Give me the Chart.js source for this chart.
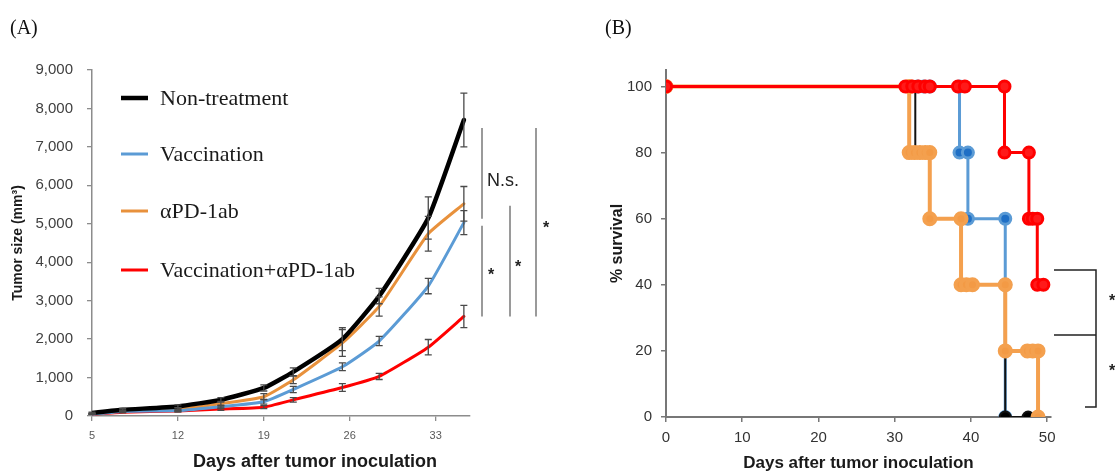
<!DOCTYPE html>
<html><head><meta charset="utf-8">
<script src="https://cdn.jsdelivr.net/npm/chart.js@4.4.0/dist/chart.umd.min.js"></script>
<style>
html,body{margin:0;padding:0;background:#fff;width:1115px;height:472px;overflow:hidden;position:relative;}
canvas{position:absolute;top:0;}
#ca{left:0;}
#cb{left:560px;}
.lbl{position:absolute;top:15px;font-family:"Liberation Serif","Times New Roman",serif;font-size:20px;color:#111;line-height:24px;z-index:2;}
</style></head><body>
<canvas id="ca" width="560" height="472"></canvas>
<canvas id="cb" width="555" height="472"></canvas>
<div class="lbl" style="left:10px">(A)</div>
<div class="lbl" style="left:605px">(B)</div>
<script>
// ---------- Panel A: tumor growth ----------
const daysA = [5, 7.5, 12, 15.5, 19, 21.4, 25.4, 28.4, 32.4, 35.3];
const nonTreatment    = [80, 160, 250, 420, 730, 1150, 2000, 3120, 5150, 7700];
const nonTreatmentErr = [20, 40, 40, 60, 80, 100, 300, 200, 550, 700];
const vaccination     = [50, 120, 140, 240, 370, 690, 1280, 1950, 3380, 5030];
const vaccinationErr  = [10, 20, 30, 40, 60, 80, 100, 120, 200, 310];
const antiPD1         = [60, 130, 180, 320, 500, 940, 1900, 2850, 4740, 5520];
const antiPD1Err      = [20, 30, 40, 60, 80, 100, 350, 250, 450, 450];
const combo           = [50, 100, 130, 180, 230, 420, 740, 1030, 1790, 2590];
const comboErr        = [10, 20, 20, 30, 40, 60, 100, 80, 200, 290];
const tickDaysA = [5, 12, 19, 26, 33];
const tickSizeA = [0, 1000, 2000, 3000, 4000, 5000, 6000, 7000, 8000, 9000];
const labelsA = ['Non-treatment', 'Vaccination', '\u03b1PD-1ab', 'Vaccination+\u03b1PD-1ab'];
const titleXA = 'Days after tumor inoculation';
// significance brackets (y values in mm3)
const sigA = [
  {col: 0, from: 7490, to: 5130, text: 'N.s.', ty: 6100},
  {col: 0, from: 4950, to: 2590, text: '*', ty: 3740},
  {col: 1, from: 5470, to: 2590, text: '*', ty: 3950},
  {col: 2, from: 7490, to: 2590, text: '*', ty: 4950}
];

// ---------- Panel B: survival ----------
const survComboDays = [0, 31.4, 32.3, 33.1, 34.0, 34.6, 38.3, 39.2, 44.4, 44.4, 47.6, 47.6, 48.1, 48.7, 48.7, 49.5];
const survComboPct  = [100, 100, 100, 100, 100, 100, 100, 100, 100, 80, 80, 60, 60, 60, 40, 40];
const survAntiDays  = [0, 31.9, 31.9, 32.6, 33.3, 34.0, 34.6, 34.6, 38.7, 38.7, 39.4, 40.2, 44.5, 44.5, 47.4, 48.1, 48.8, 48.8];
const survAntiPct   = [100, 100, 80, 80, 80, 80, 80, 60, 60, 40, 40, 40, 40, 20, 20, 20, 20, 0];
const survVacDays   = [0, 33.0, 33.8, 34.6, 38.5, 38.5, 39.6, 39.6, 44.5, 44.5, 44.5];
const survVacPct    = [100, 100, 100, 100, 100, 80, 80, 60, 60, 40, 0];
const survNonDays   = [0, 32.7, 32.7, 34.6, 34.6, 38.7, 38.7, 44.5, 44.5, 47.5, 48.8];
const survNonPct    = [100, 100, 80, 80, 60, 60, 40, 40, 0, 0, 0];
const tickDaysB = [0, 10, 20, 30, 40, 50];
const tickPctB  = [0, 20, 40, 60, 80, 100];
const sigB = {upper: 44.5, lower: 24.8, bottom: 3, stars: [36, 14.8]};

const pts = (xs, ys) => xs.map((x, i) => ({x: x, y: ys[i]}));
const SANS = '"Liberation Sans", Arial, sans-serif';

const errorBars = {
  id: 'errorBars',
  afterDatasetsDraw(chart) {
    const {ctx, scales: {x, y}} = chart;
    ctx.save();
    ctx.strokeStyle = '#4a4a4a';
    ctx.lineWidth = 1.3;
    chart.data.datasets.forEach(ds => {
      if (!ds.errors) return;
      ds.data.forEach((p, j) => {
        const e = ds.errors[j];
        const px = x.getPixelForValue(p.x);
        const t = y.getPixelForValue(p.y + e), b = y.getPixelForValue(p.y - e);
        ctx.beginPath();
        ctx.moveTo(px, t); ctx.lineTo(px, b);
        ctx.moveTo(px - 3.5, t); ctx.lineTo(px + 3.5, t);
        ctx.moveTo(px - 3.5, b); ctx.lineTo(px + 3.5, b);
        ctx.stroke();
      });
    });
    ctx.restore();
  }
};

const legendA = {
  id: 'legendA',
  afterDraw(chart) {
    const {ctx} = chart;
    const rows = [98, 154, 211, 270];
    ctx.save();
    ctx.font = '22px "Liberation Serif", "Times New Roman", serif';
    ctx.textBaseline = 'middle';
    chart.data.datasets.forEach((ds, i) => {
      const yy = rows[i];
      ctx.strokeStyle = ds.borderColor;
      ctx.lineWidth = ds.borderWidth;
      ctx.beginPath(); ctx.moveTo(121, yy); ctx.lineTo(148, yy); ctx.stroke();
      ctx.fillStyle = '#1a1a1a';
      ctx.fillText(ds.label, 160, yy + 1);
    });
    // x axis title
    ctx.font = 'bold 18px ' + SANS;
    ctx.textAlign = 'center';
    ctx.fillStyle = '#1a1a1a';
    ctx.fillText(titleXA, 315, 462);
    // significance
    const {chartArea: ca, scales: {y}} = chart;
    const cols = [12, 40, 66];
    const txo = [9, 8, 10];
    ctx.strokeStyle = '#9a9a9a';
    ctx.lineWidth = 2;
    sigA.forEach(s => {
      const xx = ca.right + cols[s.col];
      ctx.beginPath();
      ctx.moveTo(xx, y.getPixelForValue(s.from));
      ctx.lineTo(xx, y.getPixelForValue(s.to));
      ctx.stroke();
      ctx.fillStyle = '#222';
      if (s.text === '*') {
        ctx.font = 'bold 16px ' + SANS;
        ctx.textAlign = 'center';
        ctx.fillText(s.text, xx + txo[s.col], y.getPixelForValue(s.ty) + 3);
      } else {
        ctx.font = '18px ' + SANS;
        ctx.textAlign = 'left';
        ctx.fillText(s.text, xx + 5, y.getPixelForValue(s.ty));
      }
    });
    ctx.restore();
  }
};

new Chart(document.getElementById('ca'), {
  type: 'line',
  data: {
    datasets: [
      {label: labelsA[0], data: pts(daysA, nonTreatment), errors: nonTreatmentErr, borderColor: '#000000', borderWidth: 4.5},
      {label: labelsA[1], data: pts(daysA, vaccination), errors: vaccinationErr, borderColor: '#5b9bd5', borderWidth: 3},
      {label: labelsA[2], data: pts(daysA, antiPD1), errors: antiPD1Err, borderColor: '#e8913c', borderWidth: 3},
      {label: labelsA[3], data: pts(daysA, combo), errors: comboErr, borderColor: '#ff0000', borderWidth: 3}
    ]
  },
  options: {
    responsive: false, animation: false,
    layout: {padding: {top: 70, right: 90, bottom: 0, left: 0}},
    elements: {point: {radius: 0}, line: {tension: 0.15, borderCapStyle: 'round', borderJoinStyle: 'round'}},
    plugins: {legend: {display: false}, tooltip: {enabled: false}},
    scales: {
      x: {
        type: 'linear', min: 5, max: 35.8,
        afterBuildTicks: s => { s.ticks = tickDaysA.map(v => ({value: v})); },
        afterFit: s => { s.height = 56; },
        grid: {display: true, drawOnChartArea: false, drawTicks: true, tickLength: 5, color: '#8c8c8c', lineWidth: 1.3},
        border: {display: true, color: '#8c8c8c', width: 1.5},
        ticks: {font: {family: SANS, size: 11}, color: '#595959', padding: 8, maxRotation: 0, autoSkip: false},
        title: {display: false}
      },
      y: {
        type: 'linear', min: 0, max: 9000,
        afterBuildTicks: s => { s.ticks = tickSizeA.map(v => ({value: v})); },
        afterFit: s => { s.width = 92; },
        grid: {display: true, drawOnChartArea: false, drawTicks: true, tickLength: 5, color: '#8c8c8c', lineWidth: 1.3},
        border: {display: true, color: '#8c8c8c', width: 1.5},
        ticks: {font: {family: SANS, size: 15}, color: '#404040', padding: 14, callback: v => v.toLocaleString('en-US')},
        title: {display: true, text: 'Tumor size (mm\u00b3)', font: {family: SANS, size: 14, weight: 'bold', lineHeight: 1.2}, color: '#1a1a1a', padding: {top: 10, bottom: 0}}
      }
    }
  },
  plugins: [errorBars, legendA]
});

const bracketsB = {
  id: 'bracketsB',
  afterDraw(chart) {
    const {ctx, chartArea: ca, scales: {y}} = chart;
    ctx.save();
    ctx.strokeStyle = '#222';
    ctx.lineWidth = 1.5;
    const x0 = ca.right + 3, x1 = ca.right + 45;
    ctx.beginPath();
    ctx.moveTo(x0, y.getPixelForValue(sigB.upper)); ctx.lineTo(x1, y.getPixelForValue(sigB.upper));
    ctx.lineTo(x1, y.getPixelForValue(sigB.bottom)); ctx.lineTo(ca.right + 34, y.getPixelForValue(sigB.bottom));
    ctx.moveTo(x0, y.getPixelForValue(sigB.lower)); ctx.lineTo(x1, y.getPixelForValue(sigB.lower));
    ctx.stroke();
    ctx.fillStyle = '#222';
    ctx.font = 'bold 16px ' + SANS;
    ctx.textAlign = 'center';
    ctx.textBaseline = 'middle';
    sigB.stars.forEach(v => ctx.fillText('*', ca.right + 61, y.getPixelForValue(v) + 4));
    ctx.restore();
  }
};

new Chart(document.getElementById('cb'), {
  type: 'line',
  data: {
    datasets: [
      {label: labelsA[3], data: pts(survComboDays, survComboPct), borderColor: '#ff0000', backgroundColor: '#ff0000', pointBackgroundColor: '#ff1a1a', borderWidth: 3},
      {label: labelsA[2], data: pts(survAntiDays, survAntiPct), borderColor: '#f4a04e', backgroundColor: '#f4a04e', pointBackgroundColor: '#f39a45', borderWidth: 4},
      {label: labelsA[0], data: pts(survNonDays, survNonPct), borderColor: '#111111', backgroundColor: '#000', pointBackgroundColor: '#000', borderWidth: 2},
      {label: labelsA[1], data: pts(survVacDays, survVacPct), borderColor: '#5b9bd5', backgroundColor: '#1f6fc5', pointBackgroundColor: '#1f6fc5', borderWidth: 3}
    ]
  },
  options: {
    responsive: false, animation: false,
    layout: {padding: {top: 70, right: 64, bottom: 0, left: 0}},
    elements: {point: {radius: 5.5, borderWidth: 0, hoverRadius: 5.5}, line: {tension: 0}},
    plugins: {legend: {display: false}, tooltip: {enabled: false}},
    scales: {
      x: {
        type: 'linear', min: 0, max: 50.5,
        afterBuildTicks: s => { s.ticks = tickDaysB.map(v => ({value: v})); },
        afterFit: s => { s.height = 55; },
        grid: {display: true, drawOnChartArea: false, drawTicks: true, tickLength: 5, color: '#777', lineWidth: 1.5},
        border: {display: true, color: '#777', width: 2},
        ticks: {font: {family: SANS, size: 15}, color: '#333', padding: 7, maxRotation: 0, autoSkip: false},
        title: {display: true, text: 'Days after tumor inoculation', font: {family: SANS, size: 17, weight: 'bold', lineHeight: 1}, color: '#1a1a1a', padding: {top: 0, bottom: 0}}
      },
      y: {
        type: 'linear', min: 0, max: 105,
        afterBuildTicks: s => { s.ticks = tickPctB.map(v => ({value: v})); },
        afterFit: s => { s.width = 106; },
        grid: {display: true, drawOnChartArea: false, drawTicks: true, tickLength: 5, color: '#777', lineWidth: 1.5},
        border: {display: true, color: '#777', width: 2},
        ticks: {font: {family: SANS, size: 15}, color: '#333', padding: 9},
        title: {display: true, text: '% survival', font: {family: SANS, size: 16, weight: 'bold', lineHeight: 1.2}, color: '#1a1a1a', padding: {top: 48, bottom: 0}}
      }
    }
  },
  plugins: [bracketsB]
});
</script>
</body></html>
